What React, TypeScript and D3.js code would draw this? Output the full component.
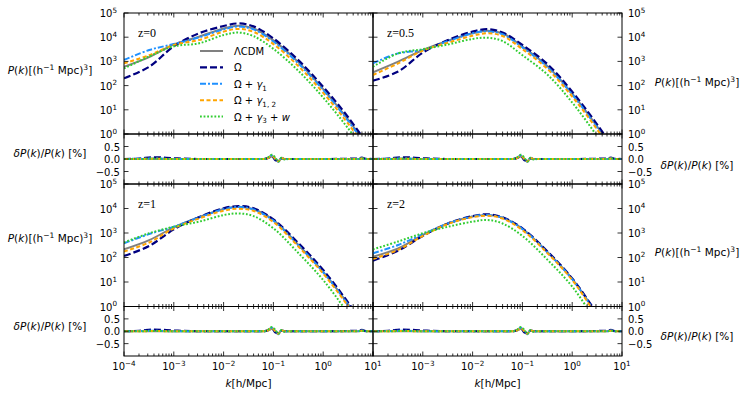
import React, { useEffect, useRef } from "react";
import * as d3 from "d3";

const kValues = [1e-4, 3.2e-4, 1e-3, 3.2e-3, 1e-2, 2e-2, 4e-2, 1e-1, 3.2e-1, 1, 3.2, 10];

// z = 0
const pkLcdmZ0 = [600, 1500, 5000, 10500, 23000, 30000, 23000, 7400, 910, 72, 3.8, 0.14];
const pkOmegaZ0 = [200, 600, 4200, 14500, 29000, 37000, 28000, 8900, 1100, 89, 4.8, 0.18];
const pkGamma1Z0 = [1150, 2950, 5200, 9800, 21000, 27500, 21000, 6600, 810, 65, 3.4, 0.13];
const pkGamma12Z0 = [830, 1800, 4800, 7600, 17000, 22000, 16600, 5200, 630, 50, 2.6, 0.1];
const pkGamma3wZ0 = [510, 1600, 4200, 5600, 12300, 15500, 11000, 3300, 400, 32, 1.66, 0.063];

// z = 0.5
const pkLcdmZ05 = [355, 980, 2950, 7200, 14500, 18600, 14500, 4100, 630, 47, 2.0, 0.063];
const pkOmegaZ05 = [160, 380, 2300, 7600, 17000, 21400, 15500, 4800, 760, 56, 2.4, 0.079];
const pkGamma1Z05 = [830, 2150, 2950, 6900, 14500, 17400, 13200, 3800, 575, 43, 1.8, 0.056];
const pkGamma12Z05 = [275, 830, 2800, 5900, 11500, 14500, 11200, 3200, 480, 35, 1.5, 0.045];
const pkGamma3wZ05 = [600, 2150, 3200, 5000, 8500, 9500, 6900, 1800, 280, 20, 0.79, 0.025];

// z = 1
const pkLcdmZ1 = [215, 510, 1700, 4400, 9500, 11700, 9300, 3400, 320, 26, 1.2, 0.038];
const pkOmegaZ1 = [115, 295, 1400, 4400, 10200, 12600, 10200, 3600, 380, 31, 1.4, 0.045];
const pkGamma1Z1 = [380, 910, 1800, 4300, 9300, 11500, 9100, 3200, 310, 25, 1.15, 0.035];
const pkGamma12Z1 = [175, 410, 1550, 3900, 8100, 9800, 7900, 2800, 275, 22, 1.0, 0.032];
const pkGamma3wZ1 = [410, 980, 1800, 2900, 5400, 6300, 4900, 1550, 150, 12, 0.5, 0.016];

// z = 2
const pkLcdmZ2 = [107, 235, 830, 2450, 4700, 5400, 4200, 1500, 165, 13.5, 0.45, 0.014];
const pkOmegaZ2 = [74, 190, 760, 2450, 4900, 5800, 4400, 1550, 175, 14, 0.5, 0.016];
const pkGamma1Z2 = [150, 325, 890, 2450, 4700, 5400, 4200, 1450, 160, 13, 0.43, 0.0135];
const pkGamma12Z2 = [87, 205, 760, 2350, 4400, 5100, 3900, 1300, 150, 12, 0.38, 0.012];
const pkGamma3wZ2 = [215, 450, 980, 1800, 2900, 3400, 2450, 760, 80, 6.5, 0.2, 0.0063];

// relative difference (%) between codes, same in every panel
const resK = [1e-4, 2e-4, 4e-4, 1e-3, 3e-3, 0.065, 0.08, 0.093, 0.11, 0.126, 0.145, 0.166, 0.2, 1, 5, 6, 7.1, 10];
const resLcdm = [0, 0, 0, 0, 0, 0, 0.04, 0.1, 0, -0.08, 0.03, 0, 0, 0, 0, 0.01, 0, 0];
const resOmega = [0, 0.02, 0.07, 0.03, 0, 0, 0.05, 0.12, -0.05, -0.08, 0.03, 0, 0, 0, 0.02, 0.06, 0.01, 0];
const resGamma1 = [0, 0.01, 0.02, 0, 0, 0, 0.06, 0.14, 0, -0.12, 0.06, -0.01, 0, 0, 0, 0.03, 0, 0];
const resGamma12 = [0, 0, 0.01, 0, 0, 0, 0.05, 0.13, 0, -0.1, 0.04, 0, 0, 0, 0, 0.02, 0, 0];
const resGamma3w = [0, 0, 0.01, 0, 0, 0, 0.08, 0.17, 0.05, -0.1, 0.05, -0.02, 0, 0, 0, 0.02, 0, 0];

const redshiftLabels = ["z=0", "z=0.5", "z=1", "z=2"];
const pkTicks = [1, 10, 100, 1000, 10000, 100000];
const pkTickExp = ["0", "1", "2", "3", "4", "5"];
const kTicks = [1e-4, 1e-3, 1e-2, 1e-1, 1, 10];
const kTickExp = ["\u22124", "\u22123", "\u22122", "\u22121", "0", "1"];
const resTicks = [-0.5, 0, 0.5];
const resTickLabels = ["\u22120.5", "0.0", "0.5"];

const SANS = "'DejaVu Sans', sans-serif";

const styles = [
  { color: "#808080", width: 2, dash: null },
  { color: "#000080", width: 2.2, dash: "7,3" },
  { color: "#1e90ff", width: 2, dash: "6,2,2,2" },
  { color: "#ffa500", width: 2, dash: "4,2.5" },
  { color: "#32cd32", width: 2, dash: "1.8,1.8" },
];

const legendParts = [
  [{ t: "\u039bCDM" }],
  [{ t: "\u03a9" }],
  [{ t: "\u03a9 + " }, { t: "\u03b3", i: true }, { t: "1", sub: true }],
  [{ t: "\u03a9 + " }, { t: "\u03b3", i: true }, { t: "1, 2", sub: true }],
  [{ t: "\u03a9 + " }, { t: "\u03b3", i: true }, { t: "3", sub: true }, { t: " + " }, { t: "w", i: true }],
];

const pkLabel = [
  { t: "P", i: true }, { t: "(" }, { t: "k", i: true }, { t: ")[(h" },
  { t: "\u22121", sup: true }, { t: " Mpc)" }, { t: "3", sup: true }, { t: "]" },
];
const resLabel = [
  { t: "\u03b4P", i: true }, { t: "(" }, { t: "k", i: true }, { t: ")/" },
  { t: "P", i: true }, { t: "(" }, { t: "k", i: true }, { t: ") [%]" },
];
const kLabel = [{ t: "k", i: true }, { t: "[h/Mpc]" }];

function rich(parent, x, y, parts, anchor, size) {
  const t = parent
    .append("text")
    .attr("x", x)
    .attr("y", y)
    .attr("text-anchor", anchor)
    .attr("font-size", size)
    .attr("font-family", SANS)
    .style("white-space", "pre");
  let shift = 0;
  parts.forEach((p) => {
    const target = p.sup ? -size * 0.42 : p.sub ? size * 0.28 : 0;
    const ts = t.append("tspan").attr("dy", target - shift).text(p.t);
    shift = target;
    if (p.sup || p.sub) ts.attr("font-size", size * 0.72);
    if (p.i) ts.attr("font-style", "italic");
  });
  return t;
}

function App() {
  const svgRef = useRef(null);

  useEffect(() => {
    const width = 747;
    const height = 397;
    const colX = [124, 373];
    const colW = 249;
    const rows = [
      { top: 13, mid: 134, bottom: 184 },
      { top: 184, mid: 306.5, bottom: 356 },
    ];
    const panels = [
      { row: 0, col: 0, series: [pkLcdmZ0, pkOmegaZ0, pkGamma1Z0, pkGamma12Z0, pkGamma3wZ0] },
      { row: 0, col: 1, series: [pkLcdmZ05, pkOmegaZ05, pkGamma1Z05, pkGamma12Z05, pkGamma3wZ05] },
      { row: 1, col: 0, series: [pkLcdmZ1, pkOmegaZ1, pkGamma1Z1, pkGamma12Z1, pkGamma3wZ1] },
      { row: 1, col: 1, series: [pkLcdmZ2, pkOmegaZ2, pkGamma1Z2, pkGamma12Z2, pkGamma3wZ2] },
    ];
    const residuals = [resLcdm, resOmega, resGamma1, resGamma12, resGamma3w];

    d3.select(svgRef.current).selectAll("*").remove();
    const svg = d3.select(svgRef.current).attr("width", width).attr("height", height);
    svg.append("rect").attr("width", width).attr("height", height).attr("fill", "#fff");
    const defs = svg.append("defs");

    const minorK = [];
    for (let e = -4; e < 1; e++) for (let m = 2; m < 10; m++) minorK.push(m * Math.pow(10, e));

    panels.forEach((pn, i) => {
      const x0 = colX[pn.col];
      const r = rows[pn.row];
      const x = d3.scaleLog().domain([1e-4, 10]).range([x0, x0 + colW]);
      const y = d3.scaleLog().domain([1, 1e5]).range([r.mid, r.top]);
      const yr = d3.scaleLinear().domain([-1, 1]).range([r.bottom, r.mid]);

      // clip paths
      defs.append("clipPath").attr("id", `clipP${i}`).append("rect")
        .attr("x", x0).attr("y", r.top).attr("width", colW).attr("height", r.mid - r.top);
      defs.append("clipPath").attr("id", `clipR${i}`).append("rect")
        .attr("x", x0).attr("y", r.mid).attr("width", colW).attr("height", r.bottom - r.mid);

      const line = d3.line()
        .x((d) => x(d[0]))
        .y((d) => y(d[1]))
        .curve(d3.curveCatmullRom.alpha(0.5));
      const resLine = d3.line()
        .x((d) => x(d[0]))
        .y((d) => yr(d[1]))
        .curve(d3.curveMonotoneX);

      // power spectra
      const gP = svg.append("g").attr("clip-path", `url(#clipP${i})`);
      pn.series.forEach((vals, s) => {
        const st = styles[s];
        gP.append("path")
          .datum(kValues.map((k, j) => [k, vals[j]]))
          .attr("fill", "none")
          .attr("stroke", st.color)
          .attr("stroke-width", st.width)
          .attr("stroke-dasharray", st.dash)
          .attr("d", line);
      });

      // residuals
      const gR = svg.append("g").attr("clip-path", `url(#clipR${i})`);
      residuals.forEach((vals, s) => {
        const st = styles[s];
        gR.append("path")
          .datum(resK.map((k, j) => [k, vals[j]]))
          .attr("fill", "none")
          .attr("stroke", st.color)
          .attr("stroke-width", st.width)
          .attr("stroke-dasharray", st.dash)
          .attr("d", resLine);
      });

      // ticks
      const ticks = svg.append("g").attr("stroke", "#000").attr("stroke-width", 0.8);
      [r.top, r.mid, r.bottom].forEach((yy, idx) => {
        const dirs = idx === 0 ? [1] : idx === 2 ? [-1] : [1, -1];
        dirs.forEach((dir) => {
          kTicks.forEach((k) => {
            ticks.append("line").attr("x1", x(k)).attr("x2", x(k)).attr("y1", yy).attr("y2", yy + dir * 4.5);
          });
          minorK.forEach((k) => {
            ticks.append("line").attr("x1", x(k)).attr("x2", x(k)).attr("y1", yy).attr("y2", yy + dir * 2.5);
          });
        });
      });
      pkTicks.forEach((v) => {
        ticks.append("line").attr("x1", x0).attr("x2", x0 + 4.5).attr("y1", y(v)).attr("y2", y(v));
        ticks.append("line").attr("x1", x0 + colW).attr("x2", x0 + colW - 4.5).attr("y1", y(v)).attr("y2", y(v));
      });
      resTicks.forEach((v) => {
        ticks.append("line").attr("x1", x0).attr("x2", x0 + 4.5).attr("y1", yr(v)).attr("y2", yr(v));
        ticks.append("line").attr("x1", x0 + colW).attr("x2", x0 + colW - 4.5).attr("y1", yr(v)).attr("y2", yr(v));
      });

      // frames
      svg.append("rect").attr("x", x0).attr("y", r.top).attr("width", colW).attr("height", r.mid - r.top)
        .attr("fill", "none").attr("stroke", "#000").attr("stroke-width", 1);
      svg.append("rect").attr("x", x0).attr("y", r.mid).attr("width", colW).attr("height", r.bottom - r.mid)
        .attr("fill", "none").attr("stroke", "#000").attr("stroke-width", 1);

      // tick labels
      const left = pn.col === 0;
      const tx = left ? x0 - 7 : x0 + colW + 6;
      const anchor = left ? "end" : "start";
      pkTicks.forEach((v, j) => {
        rich(svg, tx, y(v) + 4, [{ t: "10" }, { t: pkTickExp[j], sup: true }], anchor, 10);
      });
      resTicks.forEach((v, j) => {
        rich(svg, left ? x0 - 4 : tx, yr(v) + 4, [{ t: resTickLabels[j] }], anchor, 10);
      });
      if (pn.row === 1) {
        kTicks.forEach((k, j) => {
          // the right column shares its first tick with the left column's last
          if (!left && j === 0) return;
          rich(svg, x(k), 370, [{ t: "10" }, { t: kTickExp[j], sup: true }], "middle", 10);
        });
        rich(svg, x0 + colW / 2, 387, kLabel, "middle", 10.5);
      }

      // axis labels
      const lx = left ? 50 : 697;
      const pkY = [[74, 86], [242, 256]][pn.row][pn.col];
      const resY = [[157, 169], [330, 340]][pn.row][pn.col];
      rich(svg, lx, pkY, pkLabel, "middle", 10.5);
      rich(svg, lx, resY, resLabel, "middle", 10.5);

      // redshift label
      svg.append("text")
        .attr("x", x0 + 14)
        .attr("y", r.top + 24)
        .attr("font-family", "'Liberation Serif', serif")
        .attr("font-size", 12)
        .text(redshiftLabels[i]);

      // legend in first panel
      if (i === 0) {
        const lg = svg.append("g");
        legendParts.forEach((parts, s) => {
          const st = styles[s];
          const ly = 51 + s * 16.4;
          lg.append("line")
            .attr("x1", 200).attr("x2", 223).attr("y1", ly).attr("y2", ly)
            .attr("stroke", st.color)
            .attr("stroke-width", st.width)
            .attr("stroke-dasharray", st.dash);
          rich(lg, 234, ly + 4, parts, "start", 10);
        });
      }
    });
  }, []);

  return (
    <svg ref={svgRef} style={{ position: "absolute", left: 0, top: 0 }}></svg>
  );
}

export default App;
